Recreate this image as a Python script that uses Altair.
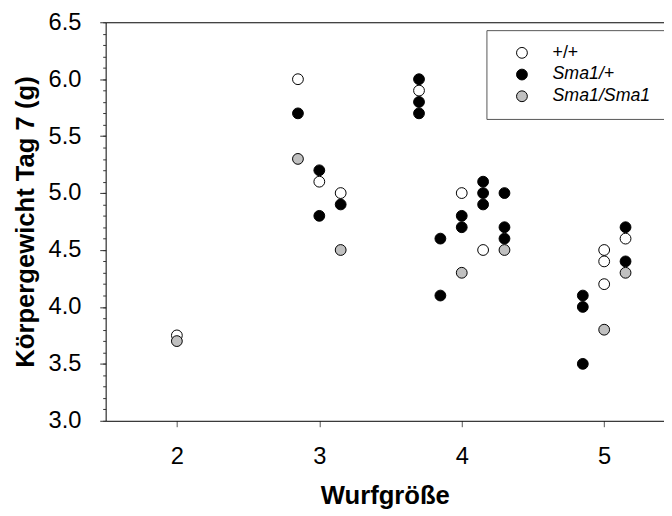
import altair as alt
import pandas as pd

groups = ["+/+", "Sma1/+", "Sma1/Sma1"]
fills = ["#ffffff", "#000000", "#c0c0c0"]

wt_x = [2.0, 2.85, 3.0, 3.15, 3.7, 4.0, 4.15, 5.0, 5.0, 5.0, 5.15]
wt_y = [3.75, 6.0, 5.1, 5.0, 5.9, 5.0, 4.5, 4.5, 4.4, 4.2, 4.6]

het_x = [2.85, 3.0, 3.0, 3.15, 3.7, 3.7, 3.7, 3.85, 3.85, 4.0, 4.0, 4.15, 4.15, 4.15,
         4.3, 4.3, 4.3, 4.85, 4.85, 4.85, 5.15, 5.15]
het_y = [5.7, 5.2, 4.8, 4.9, 6.0, 5.8, 5.7, 4.6, 4.1, 4.8, 4.7, 5.1, 5.0, 4.9,
         5.0, 4.7, 4.6, 4.1, 4.0, 3.5, 4.7, 4.4]

hom_x = [2.0, 2.85, 3.15, 4.0, 4.3, 5.0, 5.15]
hom_y = [3.7, 5.3, 4.5, 4.3, 4.5, 3.8, 4.3]

x_ticks = [2, 3, 4, 5]
y_ticks = [3.0, 3.5, 4.0, 4.5, 5.0, 5.5, 6.0, 6.5]
y_minor = [round(3.0 + 0.1 * i, 1) for i in range(36)]

rows = []
for g, xs, ys in [(groups[0], wt_x, wt_y), (groups[1], het_x, het_y), (groups[2], hom_x, hom_y)]:
    for a, b in zip(xs, ys):
        rows.append({"Wurfgröße": a, "Gewicht": b, "Genotyp": g})
df = pd.DataFrame(rows)
df["order"] = range(len(df))

FONT = "Liberation Sans"
xscale = alt.Scale(domain=[1.5, 5.42], nice=False, zero=False)
yscale = alt.Scale(domain=[3.0, 6.5], nice=False, zero=False)

points = alt.Chart(df).mark_circle(size=120, opacity=1, stroke="black", strokeWidth=1).encode(
    x=alt.X("Wurfgröße:Q", scale=xscale,
            axis=alt.Axis(values=x_ticks, title="Wurfgröße", grid=False, tickSize=6,
                          domainColor="black", tickColor="#555555", labelFontSize=24,
                          titleFontSize=26, titleFontWeight="bold", labelPadding=18,
                          titlePadding=15, labelFont=FONT, titleFont=FONT, labelColor="black",
                          titleColor="black")),
    y=alt.Y("Gewicht:Q", scale=yscale,
            axis=alt.Axis(values=y_ticks, format=".1f", title="Körpergewicht Tag 7 (g)",
                          grid=False, tickSize=6, domainColor="black", tickColor="#333333",
                          labelFontSize=24, titleFontSize=26, titleFontWeight="bold",
                          labelPadding=19, titlePadding=10, labelFont=FONT, titleFont=FONT,
                          labelColor="black", titleColor="black")),
    color=alt.Color("Genotyp:N", scale=alt.Scale(domain=groups, range=fills),
                    legend=alt.Legend(title=None, orient="none", legendX=386, legendY=8,
                                      strokeColor="#555555", fillColor="white", padding=14,
                                      labelFont=FONT, labelFontSize=18, labelColor="black",
                                      labelFontStyle={"expr": "datum.value === '+/+' ? 'normal' : 'italic'"},
                                      labelExpr="datum.label + '\u00a0'",
                                      symbolType="circle", symbolSize=120,
                                      symbolStrokeColor="black", symbolStrokeWidth=1,
                                      symbolOffset=13, labelOffset=22, rowPadding=4)),
    order="order:Q",
)

frame = alt.Chart(df).mark_circle(opacity=0).encode(
    x=alt.X("Wurfgröße:Q", scale=xscale,
            axis=alt.Axis(orient="top", labels=False, ticks=False, title=None, grid=False,
                          domainColor="black")),
    y=alt.Y("Gewicht:Q", scale=yscale,
            axis=alt.Axis(orient="left", values=y_minor, labels=False, domain=False, title=None,
                          grid=False, tickSize=3, tickColor="#333333")),
)

chart = alt.layer(points, frame).resolve_axis(x="independent", y="independent").properties(
    width=566, height=404,
    autosize=alt.AutoSizeParams(type="none"),
    padding={"left": 99, "top": 11, "right": 0, "bottom": 90},
).configure_view(stroke=None)

chart.save("out.html", embed_options={"renderer": "svg", "actions": False})
